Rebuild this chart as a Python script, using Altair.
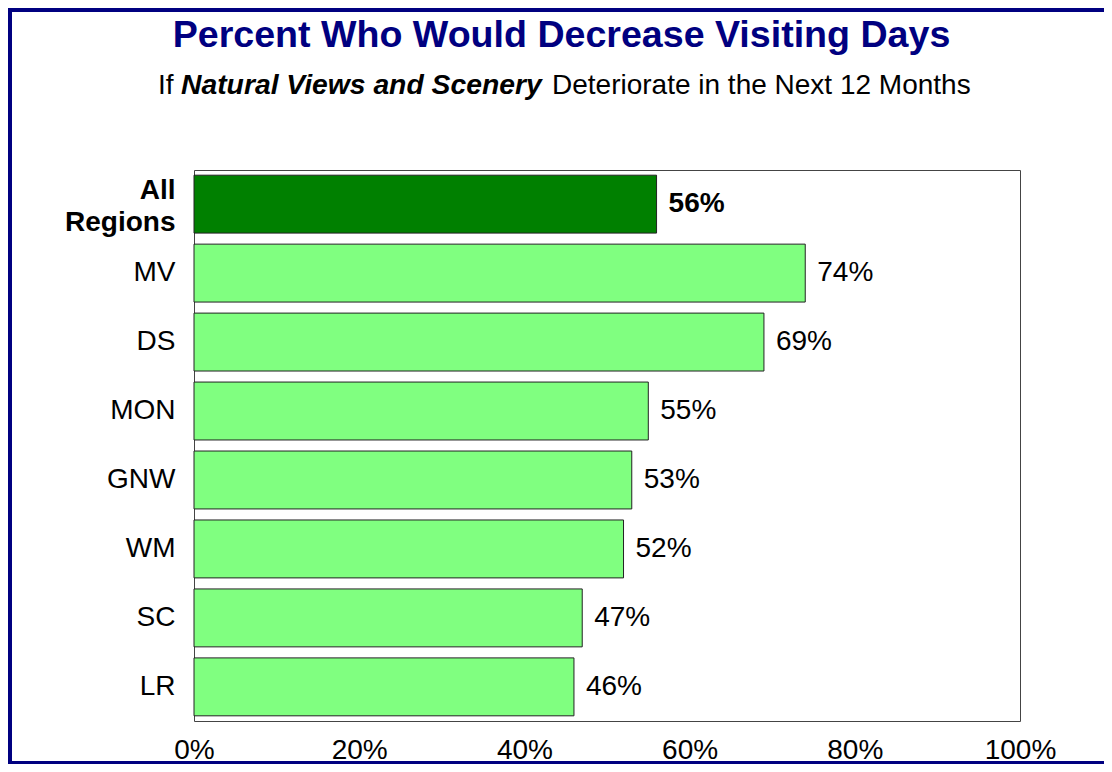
import altair as alt
import pandas as pd

categories = ["All Regions", "MV", "DS", "MON", "GNW", "WM", "SC", "LR"]
values = [0.56, 0.74, 0.69, 0.55, 0.53, 0.52, 0.47, 0.46]
groups = ["all", "region", "region", "region", "region", "region", "region", "region"]
x_ticks = [0, 0.2, 0.4, 0.6, 0.8, 1.0]

title_text = "Percent Who Would Decrease Visiting Days"
sub_a = "If"
sub_b = "Natural Views and Scenery"
sub_c = "Deteriorate in the Next 12 Months"

FONT = "Liberation Sans"
W, H = 826, 551
PL, PT, PR, PB = 186, 162, 84, 43

df = pd.DataFrame({"cat": categories, "val": values, "grp": groups})

yscale = alt.Scale(domain=categories, paddingInner=0.16, paddingOuter=0.075)
xscale = alt.Scale(domain=[0, 1], nice=False)

bars = alt.Chart(df).mark_bar(stroke="#222222", strokeWidth=1).encode(
    x=alt.X("val:Q", scale=xscale,
            axis=alt.Axis(values=x_ticks, format="%", grid=False, ticks=False, domain=False,
                          labelFontSize=28, labelFont=FONT, labelColor="#000000",
                          labelPadding=15, title=None, labelFlush=False)),
    y=alt.Y("cat:N", scale=yscale, sort=categories,
            axis=alt.Axis(ticks=False, domain=False, title=None, labelFontSize=28,
                          labelFont=FONT, labelColor="#000000", labelPadding=19,
                          labelLineHeight=32,
                          labelExpr="datum.value == 'All Regions' ? ['All', 'Regions'] : datum.value",
                          labelOffset={"condition": {"test": "datum.value == 'All Regions'", "value": -13}, "value": 0},
                          labelFontWeight={"condition": {"test": "datum.value == 'All Regions'", "value": "bold"}, "value": "normal"})),
    color=alt.Color("grp:N", scale=alt.Scale(domain=["all", "region"], range=["#008000", "#80FF80"]), legend=None),
)

labels_bold = alt.Chart(df).transform_filter("datum.grp == 'all'").mark_text(
    align="left", baseline="middle", dx=12, fontSize=28, font=FONT, fontWeight="bold", color="#000000"
).encode(x=alt.X("val:Q", scale=xscale), y=alt.Y("cat:N", scale=yscale, sort=categories),
         text=alt.Text("val:Q", format=".0%"))

labels_norm = alt.Chart(df).transform_filter("datum.grp != 'all'").mark_text(
    align="left", baseline="middle", dx=12, fontSize=28, font=FONT, color="#000000"
).encode(x=alt.X("val:Q", scale=xscale), y=alt.Y("cat:N", scale=yscale, sort=categories),
         text=alt.Text("val:Q", format=".0%"))

one = pd.DataFrame({"k": [0]})

title_mark = alt.Chart(one).mark_text(
    align="center", baseline="alphabetic", fontSize=37.6, font=FONT, fontWeight="bold", color="#000080"
).encode(x=alt.value(367.5), y=alt.value(-123), text=alt.value(title_text))

sub1 = alt.Chart(one).mark_text(
    align="left", baseline="alphabetic", fontSize=28, font=FONT, color="#000000"
).encode(x=alt.value(-36), y=alt.value(-76), text=alt.value(sub_a))

sub2 = alt.Chart(one).mark_text(
    align="left", baseline="alphabetic", fontSize=28.3, font=FONT, fontWeight="bold", fontStyle="italic", color="#000000"
).encode(x=alt.value(-13), y=alt.value(-76), text=alt.value(sub_b))

sub3 = alt.Chart(one).mark_text(
    align="left", baseline="alphabetic", fontSize=28, font=FONT, color="#000000"
).encode(x=alt.value(358), y=alt.value(-76), text=alt.value(sub_c))

# outer navy frame (left, top, bottom)
b_left = alt.Chart(one).mark_rule(color="#000080", strokeWidth=4).encode(
    x=alt.value(-PL + 2), y=alt.value(-PT), y2=alt.value(H + PB))
b_top = alt.Chart(one).mark_rule(color="#000080", strokeWidth=4).encode(
    x=alt.value(-PL), x2=alt.value(W + PR), y=alt.value(-PT + 2))
b_bot = alt.Chart(one).mark_rule(color="#000080", strokeWidth=3).encode(
    x=alt.value(-PL), x2=alt.value(W + PR), y=alt.value(H + PB - 1.5))

chart = alt.layer(bars, labels_bold, labels_norm, title_mark, sub1, sub2, sub3, b_left, b_top, b_bot).properties(
    width=W, height=H,
    autosize=alt.AutoSizeParams(type="none"),
    padding={"left": PL, "top": PT, "right": PR, "bottom": PB},
    background="#FFFFFF",
).configure_view(stroke="#444444", strokeWidth=1)

chart.save("out.html", embed_options={"renderer": "svg", "actions": False})
